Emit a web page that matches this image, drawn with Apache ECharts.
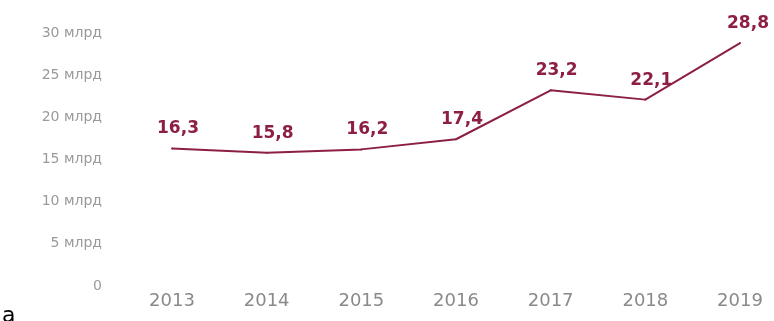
<!DOCTYPE html>
<html>
<head>
<meta charset="utf-8">
<script src="https://cdn.jsdelivr.net/npm/echarts@6/dist/echarts.min.js"></script>
<style>html,body{margin:0;padding:0;background:#fff}#c{width:774px;height:321px}</style>
</head>
<body>
<div id="c"></div>
<script>
const years = ['2013','2014','2015','2016','2017','2018','2019'];
const values = [16.3, 15.8, 16.2, 17.4, 23.2, 22.1, 28.8];
const yTicks = [0, 5, 10, 15, 20, 25, 30];
const unit = 'млрд';

const lastLabelShift = 2;
const seriesData = values.map((v, i) =>
  i === values.length - 1 ? {value: v, label: {offset: [6 + lastLabelShift, 0]}} : v);

const chart = echarts.init(document.getElementById('c'), null, {renderer: 'canvas'});
chart.setOption({
  animation: false,
  backgroundColor: '#ffffff',
  grid: {left: 172, right: 34, top: 33, bottom: 35},
  xAxis: {
    type: 'category',
    data: years,
    boundaryGap: false,
    axisLine: {show: false},
    axisTick: {show: false},
    axisLabel: {color: '#8a8a8a', fontSize: 18, fontFamily: 'DejaVu Sans', margin: 6}
  },
  yAxis: {
    type: 'value',
    min: 0, max: 30, interval: 5,
    axisLine: {show: false},
    axisTick: {show: false},
    splitLine: {show: false},
    axisLabel: {
      color: '#9a9a9a', fontSize: 14, fontFamily: 'DejaVu Sans', margin: 70,
      formatter: v => v === 0 ? '0' : v + ' ' + unit
    }
  },
  series: [{
    type: 'line',
    data: seriesData,
    symbol: 'circle',
    symbolSize: 2,
    showSymbol: true,
    itemStyle: {color: '#8c1f43'},
    lineStyle: {color: '#8c1f43', width: 2},
    label: {
      show: true,
      position: 'top',
      distance: 10,
      offset: [6, 0],
      color: '#8c1f43',
      fontSize: 17,
      fontWeight: 'bold',
      fontFamily: 'DejaVu Sans',
      formatter: p => String(p.value).replace('.', ',')
    }
  }],
  graphic: [{
    type: 'text', left: 2, top: 305,
    style: {text: 'a', fill: '#000', font: '22px DejaVu Sans'}
  }]
});
</script>
</body>
</html>
